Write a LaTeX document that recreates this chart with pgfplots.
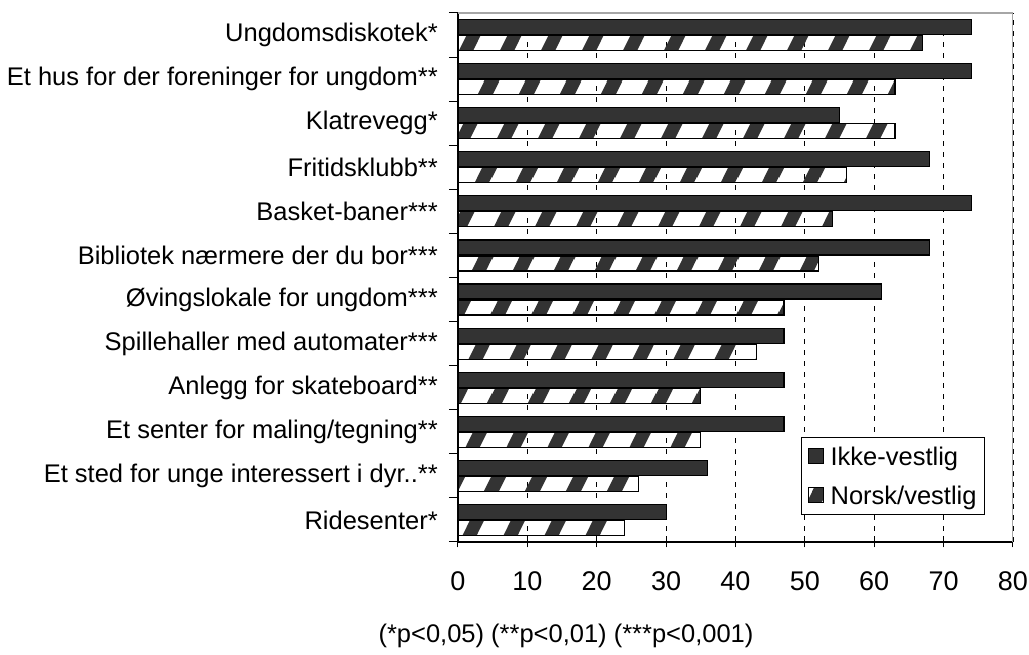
\documentclass[border=0pt]{standalone}
\usepackage{pgfplots}
\pgfplotsset{compat=1.18}
\usepackage{fontspec}
\setmainfont{Liberation Sans}
\usetikzlibrary{patterns}
\definecolor{darkbar}{HTML}{333333}
\pgfdeclarepatternformonly{steepstripes}{\pgfqpoint{0pt}{0pt}}{\pgfqpoint{41pt}{82pt}}{\pgfqpoint{41pt}{82pt}}{%
  \pgfsetlinewidth{13pt}%
  \pgfpathmoveto{\pgfqpoint{-51pt}{-20pt}}\pgfpathlineto{\pgfqpoint{10pt}{102pt}}%
  \pgfpathmoveto{\pgfqpoint{-10pt}{-20pt}}\pgfpathlineto{\pgfqpoint{51pt}{102pt}}%
  \pgfpathmoveto{\pgfqpoint{31pt}{-20pt}}\pgfpathlineto{\pgfqpoint{92pt}{102pt}}%
  \pgfusepath{stroke}}
\begin{document}
\begin{tikzpicture}
\useasboundingbox (0pt,0pt) rectangle (1029pt,655pt);
\begin{axis}[
  at={(458pt,113pt)}, anchor=south west,
  scale only axis, width=555pt, height=529pt,
  xbar, bar width=15pt,
  xmin=0, xmax=80, ymin=-0.5, ymax=11.5,
  xtick={0,10,...,80},
  ytick={0,...,11},
  yticklabels={Ridesenter*,{Et sted for unge interessert i dyr..**},{Et senter for maling/tegning**},{Anlegg for skateboard**},{Spillehaller med automater***},{Øvingslokale for ungdom***},{Bibliotek nærmere der du bor***},{Basket-baner***},{Fritidsklubb**},{Klatrevegg*},{Et hus for der foreninger for ungdom**},{Ungdomsdiskotek*}},
  minor ytick={-0.5,0.5,...,11.5},
  axis x line*=bottom, axis y line*=left,
  axis line style={black, line width=1.2pt},
  y tick style={draw=none},
  minor y tick style={draw=black, line width=1pt},
  minor tick length=9pt,
  ytick align=outside,
  x tick style={black, line width=1pt},
  xtick align=center, major tick length=11pt,
  xmajorgrids,
  major x grid style={black, line width=0.9pt, dash pattern=on 5pt off 6pt},
  /pgf/number format/assume math mode=true,
  xticklabel style={font=\fontsize{27}{31}\selectfont, yshift=-21pt},
  yticklabel style={font=\fontsize{25.5}{29}\selectfont, inner sep=0pt, xshift=-9pt},
  legend style={at={(0.9495,0.051)}, anchor=south east, draw=black, line width=0.8pt,
    font=\fontsize{25.5}{29}\selectfont, row sep=15pt, inner xsep=6pt, inner ysep=7pt,
    /tikz/every odd column/.append style={column sep=5pt}},
  legend cell align=left,
  legend image code/.code={\draw[#1, line width=1pt] (0pt,-7pt) rectangle (15pt,8pt);},
]
\addplot[bar shift=8pt, draw=black, line width=1.2pt, fill=darkbar] coordinates {
 (30,0) (36,1) (47,2) (47,3) (47,4) (61,5) (68,6) (74,7) (68,8) (55,9) (74,10) (74,11)};
\addlegendentry{Ikke-vestlig}
\addplot[bar shift=-8pt, draw=black, line width=1.2pt, pattern=steepstripes, pattern color=darkbar] coordinates {
 (24,0) (26,1) (35,2) (35,3) (43,4) (47,5) (52,6) (54,7) (56,8) (63,9) (63,10) (67,11)};
\addlegendentry{Norsk/vestlig}
\draw[gray!70, line width=1.5pt] (rel axis cs:0,1) -- (rel axis cs:1,1) -- (rel axis cs:1,0);
\end{axis}
\node[font=\fontsize{25.5}{29}\selectfont] at (566pt,19pt) {(*p<0,05) (**p<0,01) (***p<0,001)};
\end{tikzpicture}
\end{document}
